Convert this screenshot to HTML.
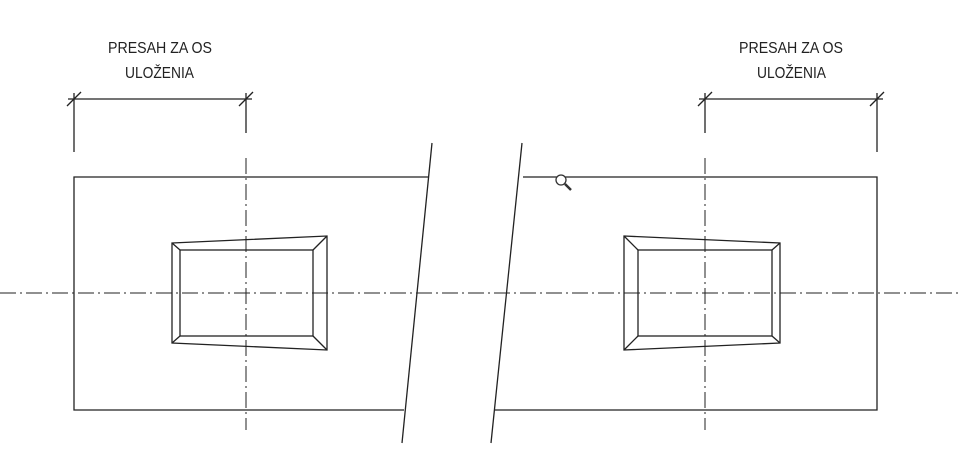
<!DOCTYPE html>
<html><head><meta charset="utf-8"><style>
html,body{margin:0;padding:0;background:#fff;}
svg{display:block;}
text{font-family:"Liberation Sans",sans-serif;font-size:16px;fill:#222;}
</style></head><body>
<svg width="958" height="469" viewBox="0 0 958 469" xmlns="http://www.w3.org/2000/svg">
<g stroke="#222" stroke-width="1.3" fill="none">
<polyline points="429,177 74,177 74,410 404,410"/>
<line x1="432" y1="143" x2="402" y2="443"/>
<polyline points="523,177 877,177 877,410 495,410"/>
<line x1="522" y1="143" x2="491" y2="443"/>
<polygon points="172,243 327,236 327,350 172,343"/>
<rect x="180" y="250" width="133" height="86"/>
<line x1="172" y1="243" x2="180" y2="250"/>
<line x1="327" y1="236" x2="313" y2="250"/>
<line x1="327" y1="350" x2="313" y2="336"/>
<line x1="172" y1="343" x2="180" y2="336"/>
<polygon points="624,236 780,243 780,343 624,350"/>
<rect x="638" y="250" width="134" height="86"/>
<line x1="624" y1="236" x2="638" y2="250"/>
<line x1="780" y1="243" x2="772" y2="250"/>
<line x1="780" y1="343" x2="772" y2="336"/>
<line x1="624" y1="350" x2="638" y2="336"/>
<line x1="68" y1="99" x2="252" y2="99"/>
<line x1="74" y1="93" x2="74" y2="152"/>
<line x1="246" y1="93" x2="246" y2="133"/>
<line x1="67" y1="106" x2="81" y2="92"/>
<line x1="239" y1="106" x2="253" y2="92"/>
<line x1="699" y1="99" x2="883" y2="99"/>
<line x1="705" y1="93" x2="705" y2="133"/>
<line x1="877" y1="93" x2="877" y2="152"/>
<line x1="698" y1="106" x2="712" y2="92"/>
<line x1="870" y1="106" x2="884" y2="92"/>
</g>
<g stroke="#222" stroke-width="1" stroke-dasharray="16,4,2,4" fill="none">
<line x1="0" y1="293" x2="958" y2="293"/>
<line x1="246" y1="158" x2="246" y2="430"/>
<line x1="705" y1="158" x2="705" y2="430"/>
</g>
<circle cx="561" cy="180" r="5" fill="#fff" stroke="#333" stroke-width="1.3"/>
<line x1="565" y1="184" x2="571" y2="190" stroke="#333" stroke-width="2.5"/>
<text x="108" y="53" textLength="104" lengthAdjust="spacingAndGlyphs">PRESAH ZA OS</text>
<text x="125" y="78" textLength="69" lengthAdjust="spacingAndGlyphs">ULOŽENIA</text>
<text x="739" y="53" textLength="104" lengthAdjust="spacingAndGlyphs">PRESAH ZA OS</text>
<text x="757" y="78" textLength="69" lengthAdjust="spacingAndGlyphs">ULOŽENIA</text>
</svg>
</body></html>
